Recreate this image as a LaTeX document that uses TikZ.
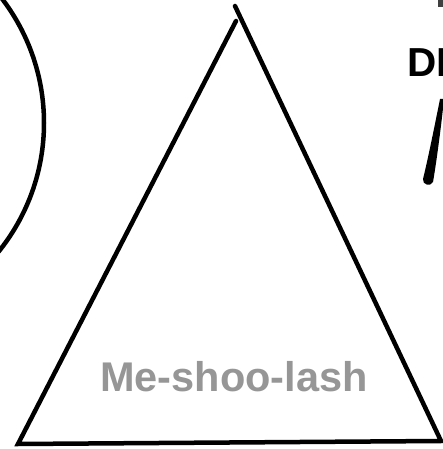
\documentclass[tikz,border=0pt]{standalone}
\usepackage{fontspec}
\setmainfont{Liberation Sans}
\begin{document}
\begin{tikzpicture}[x=1pt,y=1pt,
  stroke/.style={line width=4.5pt, line join=miter, line cap=round},
  graylabel/.style={anchor=base west, inner sep=0pt, text={rgb,255:red,150;green,150;blue,150}, font=\fontsize{41.5}{41.5}\selectfont\bfseries},
  darklabel/.style={anchor=base west, inner sep=0pt, text=black, font=\fontsize{40.5}{40.5}\selectfont\bfseries}]
\useasboundingbox (0,0) rectangle (443,449);
\clip (0,0) rectangle (443,449);
\fill[white] (0,0) rectangle (443,449);
% circle at left
\coordinate (cc) at (-161,326);
\draw[stroke] (cc) circle[radius=205];
% triangle
\coordinate (tl) at (236,428);
\coordinate (tr) at (235,443);
\coordinate (bl) at (18,5);
\coordinate (br) at (441,8);
\draw[stroke] (tl) -- (bl) -- (br) -- (tr);
% label
\node[graylabel] (lbl) at (100,57) {Me-shoo-lash};
% partial heading at right
\node[darklabel] (head) at (407,372) {DI};
% brush stroke at right
\fill[black] (440,350) .. controls (436,330) and (428,290) .. (423,270)
  .. controls (422,264) and (431,262) .. (433,267)
  .. controls (437,290) and (442,330) .. (444,350) -- cycle;
% small mark at top right
\fill[black!75] (438,442) rectangle (444,450);
\end{tikzpicture}
\end{document}
